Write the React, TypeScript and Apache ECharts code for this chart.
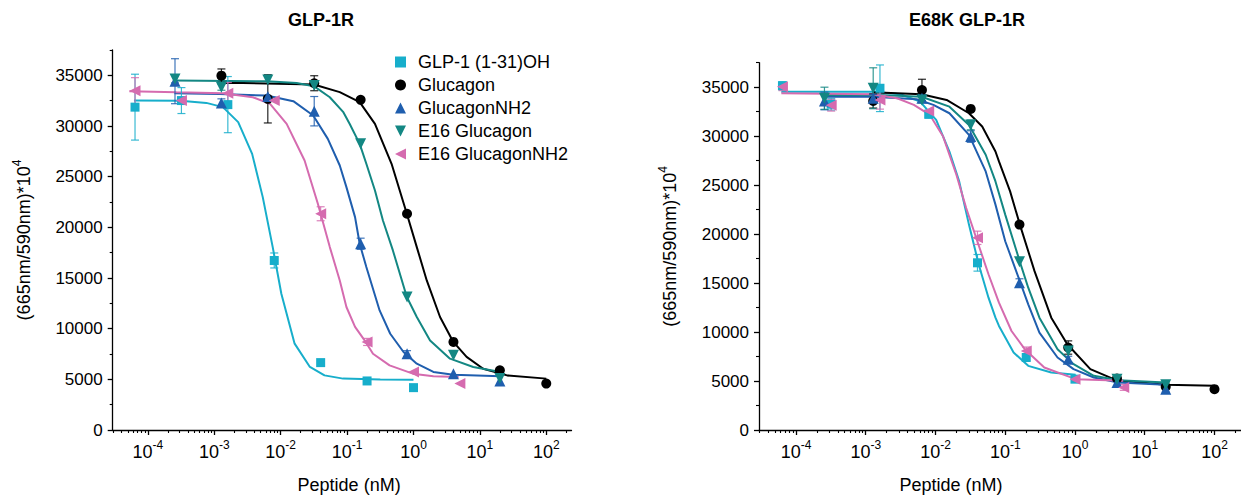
import { useEffect, useRef } from 'react';
import * as echarts from 'echarts';

// ---------- data (concentrations in nM, responses in (665nm/590nm)*10^4) ----------
const SERIES_NAMES = ['GLP-1 (1-31)OH', 'Glucagon', 'GlucagonNH2', 'E16 Glucagon', 'E16 GlucagonNH2'];
const PANEL_TITLES = ['GLP-1R', 'E68K GLP-1R'];

const CONC_GLP1 = [0.000064, 0.00032, 0.0016, 0.008, 0.04, 0.2, 1];
const CONC_GLUCAGON = [0.00128, 0.0064, 0.032, 0.16, 0.8, 4, 20, 100];
const CONC_NH2 = [0.000256, 0.00128, 0.0064, 0.032, 0.16, 0.8, 4, 20];
const CONC_E16_NH2 = [0.000064, 0.00032, 0.0016, 0.008, 0.04, 0.2, 1, 5];

// Left panel (GLP-1R) means and SD
const L_GLP1 = [31860, 32510, 32110, 16730, 6650, 4840, 4180];
const L_GLP1_SD = [3250, 1280, 2770, 740, 0, 0, 0];
const L_GLUCAGON = [34970, 32680, 34220, 32580, 21340, 8690, 5890, 4580];
const L_GLUCAGON_SD = [660, 2380, 740, 0, 0, 0, 0, 0];
const L_NH2 = [34420, 32280, 32900, 31460, 18380, 7530, 5560, 4840];
const L_NH2_SD = [2220, 400, 0, 1450, 550, 300, 0, 0];
const L_E16 = [34650, 33830, 34550, 33990, 28240, 13120, 7370, 5070];
const L_E16_SD = [400, 300, 0, 0, 0, 0, 0, 0];
const L_E16_NH2 = [33490, 32510, 33240, 32510, 21340, 8690, 5730, 4580];
const L_E16_NH2_SD = [1280, 0, 1050, 0, 690, 350, 0, 0];

// Right panel (E68K GLP-1R)
const R_GLP1 = [35150, 33260, 34890, 32240, 17070, 7400, 5190];
const R_GLP1_SD = [400, 600, 2380, 400, 850, 300, 300];
const R_GLUCAGON = [33590, 34710, 32780, 20970, 8420, 5260, 4410, 4170];
const R_GLUCAGON_SD = [720, 1100, 0, 0, 680, 0, 0, 0];
const R_NH2 = [33590, 33870, 33870, 29960, 15040, 7230, 4860, 4170];
const R_NH2_SD = [900, 400, 400, 590, 400, 300, 0, 300];
const R_E16 = [33870, 34890, 33700, 31150, 17170, 8070, 5190, 4610];
const R_E16_SD = [1130, 2090, 300, 500, 0, 0, 0, 300];
const R_E16_NH2 = [35050, 33160, 33700, 32580, 19620, 8070, 5190, 4350];
const R_E16_NH2_SD = [400, 600, 940, 0, 680, 400, 0, 300];

// Fitted curves: [log10(nM), response]
const FIT_L_GLP1 = [[-4.21, 32510], [-3.51, 32480], [-3.12, 32280], [-2.87, 31860], [-2.64, 30380], [-2.43, 27250], [-2.27, 22980], [-2.12, 18050], [-1.99, 13450], [-1.79, 8520], [-1.56, 6220], [-1.34, 5390], [-1.06, 5070], [-0.5, 4980], [0, 4970]];
const FIT_L_GLUCAGON = [[-2.9, 34250], [-2.57, 34240], [-1.86, 34150], [-1.5, 34090], [-1.11, 33340], [-0.81, 32350], [-0.58, 30210], [-0.33, 26270], [-0.1, 21340], [0.05, 18050], [0.2, 14760], [0.4, 11150], [0.6, 8690], [0.8, 7210], [1.05, 6050], [1.41, 5390], [2.0, 5070]];
const FIT_L_NH2 = [[-3.6, 33240], [-2.92, 33170], [-2.21, 33000], [-1.81, 32450], [-1.51, 31030], [-1.29, 28730], [-1.11, 26100], [-1.01, 23970], [-0.88, 21010], [-0.81, 18380], [-0.71, 16080], [-0.51, 11800], [-0.35, 9500], [-0.15, 7700], [0.05, 6550], [0.3, 5730], [0.6, 5460], [1.31, 5300]];
const FIT_L_E16 = [[-3.6, 34480], [-2.21, 34420], [-1.76, 34250], [-1.5, 33930], [-1.26, 32840], [-1.06, 31400], [-0.96, 30200], [-0.81, 28240], [-0.71, 26270], [-0.58, 23630], [-0.46, 20680], [-0.31, 17720], [-0.1, 13120], [0.05, 11150], [0.25, 8840], [0.55, 7040], [0.9, 6220], [1.31, 5730]];
const FIT_L_E16_NH2 = [[-4.28, 33430], [-3.57, 33330], [-2.87, 33240], [-2.42, 32840], [-2.16, 32180], [-1.91, 30210], [-1.64, 26590], [-1.44, 22320], [-1.26, 18050], [-1.11, 14760], [-1.01, 12140], [-0.88, 10170], [-0.72, 8690], [-0.61, 7530], [-0.36, 6380], [-0.01, 5560], [0.3, 5300], [0.68, 5240]];

const FIT_R_GLP1 = [[-4.21, 34540], [-2.9, 34540], [-2.5, 34280], [-2.22, 33520], [-1.99, 31660], [-1.8, 28430], [-1.66, 25380], [-1.52, 20970], [-1.38, 16900], [-1.24, 13510], [-1.14, 11470], [-1.09, 10620], [-0.88, 7910], [-0.67, 6550], [-0.34, 5870], [0.01, 5630]];
const FIT_R_GLUCAGON = [[-2.9, 34480], [-2.2, 34280], [-1.84, 33700], [-1.52, 32340], [-1.33, 30980], [-1.14, 28430], [-1.09, 27420], [-0.93, 24360], [-0.79, 20970], [-0.58, 16220], [-0.34, 11470], [-0.11, 8750], [0.22, 6210], [0.59, 5090], [1.3, 4610], [2.0, 4510]];
const FIT_R_NH2 = [[-3.6, 34030], [-2.9, 34030], [-2.27, 33770], [-2.03, 33190], [-1.8, 32340], [-1.52, 30130], [-1.28, 26400], [-1.14, 23010], [-1.0, 19270], [-0.86, 16560], [-0.67, 12830], [-0.51, 9950], [-0.25, 7400], [-0.02, 6210], [0.27, 5360], [0.62, 4860], [1.3, 4610]];
const FIT_R_E16 = [[-3.6, 34200], [-2.9, 34240], [-2.2, 34030], [-1.8, 33010], [-1.52, 31150], [-1.28, 28100], [-1.14, 25380], [-1.0, 21990], [-0.79, 17170], [-0.67, 14530], [-0.51, 11470], [-0.25, 8250], [-0.02, 6720], [0.27, 5530], [0.62, 5090], [1.3, 4860]];
const FIT_R_E16_NH2 = [[-4.21, 34380], [-2.9, 34280], [-2.55, 33870], [-2.31, 33190], [-2.08, 32170], [-1.89, 29960], [-1.7, 26060], [-1.56, 22670], [-1.4, 19270], [-1.24, 15900], [-1.09, 13000], [-0.91, 10110], [-0.72, 8250], [-0.44, 6380], [0.01, 5190], [0.69, 5020]];

// Axis ticks
const X_TICK_EXPONENTS = [-4, -3, -2, -1, 0, 1, 2];
const Y_TICKS = [0, 5000, 10000, 15000, 20000, 25000, 30000, 35000];
const Y_MINOR_TICKS = [2500, 7500, 12500, 17500, 22500, 27500, 32500, 37500];
const X_LOG_MIN = -4.53;
const X_LOG_MAX = 2.38;
const Y_MAX = 37500;

// ---------- styling ----------
const COLORS = ['#17AECB', '#000000', '#1F5EAE', '#138783', '#D56BAF'];
const SYMBOLS = [
  'rect',
  'circle',
  'triangle',
  'path://M0,0L10,0L5,10Z',
  'path://M10,0L10,10L0,5Z',
];
const SYMBOL_SIZE = [9, 10, 11, 11, 11];
const FONT = '"Liberation Sans", Arial, Helvetica, sans-serif';

const CONCS = [CONC_GLP1, CONC_GLUCAGON, CONC_NH2, CONC_NH2, CONC_E16_NH2];
const PANELS = [
  {
    means: [L_GLP1, L_GLUCAGON, L_NH2, L_E16, L_E16_NH2],
    sds: [L_GLP1_SD, L_GLUCAGON_SD, L_NH2_SD, L_E16_SD, L_E16_NH2_SD],
    fits: [FIT_L_GLP1, FIT_L_GLUCAGON, FIT_L_NH2, FIT_L_E16, FIT_L_E16_NH2],
  },
  {
    means: [R_GLP1, R_GLUCAGON, R_NH2, R_E16, R_E16_NH2],
    sds: [R_GLP1_SD, R_GLUCAGON_SD, R_NH2_SD, R_E16_SD, R_E16_NH2_SD],
    fits: [FIT_R_GLP1, FIT_R_GLUCAGON, FIT_R_NH2, FIT_R_E16, FIT_R_E16_NH2],
  },
];

function minorLogTicks(): number[] {
  const out: number[] = [];
  for (let e = -5; e <= 2; e++) {
    for (let k = 2; k <= 9; k++) {
      const v = e + Math.log10(k);
      if (v > X_LOG_MIN && v < X_LOG_MAX) out.push(v);
    }
  }
  return out;
}

function buildOption() {
  const grids = [
    { left: 112.7, top: 50, width: 458.8, height: 381.4 },
    { left: 759, top: 62.7, width: 491.3, height: 368.3 },
  ];
  const xNamePad = [[0, 0, 0, 14], [0, 98, 0, 0]];
  const xAxes: any[] = [];
  const yAxes: any[] = [];
  const minor = minorLogTicks();
  const axisColor = '#000';

  grids.forEach((_, g) => {
    xAxes.push({
      type: 'value', gridIndex: g, min: X_LOG_MIN, max: X_LOG_MAX, position: 'bottom',
      axisLine: { show: true, onZero: false, lineStyle: { color: axisColor, width: 1.3 } },
      axisTick: { show: true, inside: false, length: 5, customValues: X_TICK_EXPONENTS, lineStyle: { color: axisColor, width: 1.3 } },
      axisLabel: {
        show: true, customValues: X_TICK_EXPONENTS, margin: 9, color: '#000',
        formatter: (v: number) => `{b|10}{s|${Math.round(v)}}`,
        rich: {
          b: { fontSize: 18, fontFamily: FONT, color: '#000', lineHeight: 22, verticalAlign: 'bottom' },
          s: { fontSize: 12, fontFamily: FONT, color: '#000', lineHeight: 10, verticalAlign: 'top' },
        },
      },
      splitLine: { show: false },
      name: 'Peptide (nM)', nameLocation: 'middle', nameGap: 46,
      nameTextStyle: { fontSize: 18, fontFamily: FONT, color: '#000', padding: xNamePad[g] },
    });
    xAxes.push({
      type: 'value', gridIndex: g, min: X_LOG_MIN, max: X_LOG_MAX, position: 'bottom',
      axisLine: { show: false, onZero: false },
      axisTick: { show: true, inside: false, length: 3, customValues: minor, lineStyle: { color: axisColor, width: 1.1 } },
      axisLabel: { show: false },
      splitLine: { show: false },
    });
    yAxes.push({
      type: 'value', gridIndex: g, min: 0, max: Y_MAX, position: 'left',
      axisLine: { show: true, onZero: false, lineStyle: { color: axisColor, width: 1.3 } },
      axisTick: { show: true, inside: false, length: 5, customValues: Y_TICKS, lineStyle: { color: axisColor, width: 1.3 } },
      axisLabel: {
        show: true, customValues: Y_TICKS, margin: 10, fontSize: 17, fontFamily: FONT, color: '#000',
        formatter: (v: number) => String(Math.round(v)),
      },
      splitLine: { show: false },
      name: '{a|(665nm/590nm)*10}{s|4}', nameLocation: 'middle', nameGap: 80, nameRotate: 90,
      nameTextStyle: {
        fontSize: 18, fontFamily: FONT, color: '#000',
        rich: {
          a: { fontSize: 18, fontFamily: FONT, color: '#000', lineHeight: 22, verticalAlign: 'bottom' },
          s: { fontSize: 12, fontFamily: FONT, color: '#000', lineHeight: 10, verticalAlign: 'top' },
        },
      },
    });
    yAxes.push({
      type: 'value', gridIndex: g, min: 0, max: Y_MAX, position: 'left',
      axisLine: { show: false, onZero: false },
      axisTick: { show: true, inside: false, length: 3, customValues: Y_MINOR_TICKS, lineStyle: { color: axisColor, width: 1.1 } },
      axisLabel: { show: false },
      splitLine: { show: false },
    });
  });

  const lines: any[] = [];
  const errors: any[] = [];
  const points: any[] = [];
  PANELS.forEach((panel, p) => {
    const xi = p * 2;
    const yi = p * 2;
    SERIES_NAMES.forEach((name, i) => {
      const color = COLORS[i];
      const conc = CONCS[i];
      const mean = panel.means[i];
      const sd = panel.sds[i];
      lines.push({
        type: 'line', name: `fit-${p}-${i}`, xAxisIndex: xi, yAxisIndex: yi,
        data: panel.fits[i], showSymbol: false, symbol: 'none', smooth: false, silent: true,
        lineStyle: { color, width: 2 }, itemStyle: { color }, z: 2,
      });
      const errData: number[][] = [];
      mean.forEach((m, k) => {
        if (sd[k] > 0) errData.push([Math.log10(conc[k]), m - sd[k], m + sd[k]]);
      });
      errors.push({
        type: 'custom', name: `err-${p}-${i}`, xAxisIndex: xi, yAxisIndex: yi, silent: true, z: 3,
        encode: { x: 0, y: [1, 2] },
        data: errData,
        renderItem: (params: any, api: any) => {
          const x = api.value(0);
          const lo = api.coord([x, api.value(1)]);
          const hi = api.coord([x, api.value(2)]);
          const w = 4;
          const style = { stroke: color, lineWidth: 1.2, opacity: 0.85 };
          return {
            type: 'group',
            children: [
              { type: 'line', shape: { x1: lo[0], y1: lo[1], x2: hi[0], y2: hi[1] }, style },
              { type: 'line', shape: { x1: lo[0] - w, y1: lo[1], x2: lo[0] + w, y2: lo[1] }, style },
              { type: 'line', shape: { x1: hi[0] - w, y1: hi[1], x2: hi[0] + w, y2: hi[1] }, style },
            ],
          };
        },
      });
      points.push({
        type: 'scatter', name, xAxisIndex: xi, yAxisIndex: yi,
        data: mean.map((m, k) => [Math.log10(conc[k]), m]),
        symbol: SYMBOLS[i], symbolSize: SYMBOL_SIZE[i],
        itemStyle: { color, opacity: 1 }, z: 4,
      });
    });
  });

  return {
    animation: false,
    backgroundColor: '#fff',
    textStyle: { fontFamily: FONT },
    title: [
      { text: PANEL_TITLES[0], left: 316, top: 6, textAlign: 'center', textStyle: { fontSize: 18, fontWeight: 'bold', fontFamily: FONT, color: '#000' } },
      { text: PANEL_TITLES[1], left: 962, top: 6, textAlign: 'center', textStyle: { fontSize: 18, fontWeight: 'bold', fontFamily: FONT, color: '#000' } },
    ],
    legend: {
      data: SERIES_NAMES.map((name, i) => ({ name, icon: SYMBOLS[i] })),
      orient: 'vertical', left: 390, top: 48,
      itemWidth: 11, itemHeight: 11, itemGap: 5, selectedMode: false,
      textStyle: { fontSize: 18, fontFamily: FONT, color: '#000', padding: [0, 0, 0, 7] },
    },
    grid: grids,
    xAxis: xAxes,
    yAxis: yAxes,
    series: [...lines, ...errors, ...points],
  };
}

export default function App() {
  const ref = useRef<HTMLDivElement>(null);
  useEffect(() => {
    if (!ref.current) return;
    const chart = echarts.init(ref.current, null, { renderer: 'svg' });
    chart.setOption(buildOption() as any);
    return () => chart.dispose();
  }, []);
  return <div ref={ref} style={{ position: 'fixed', left: 0, top: 0, width: 1241, height: 499, background: '#fff' }} />;
}
